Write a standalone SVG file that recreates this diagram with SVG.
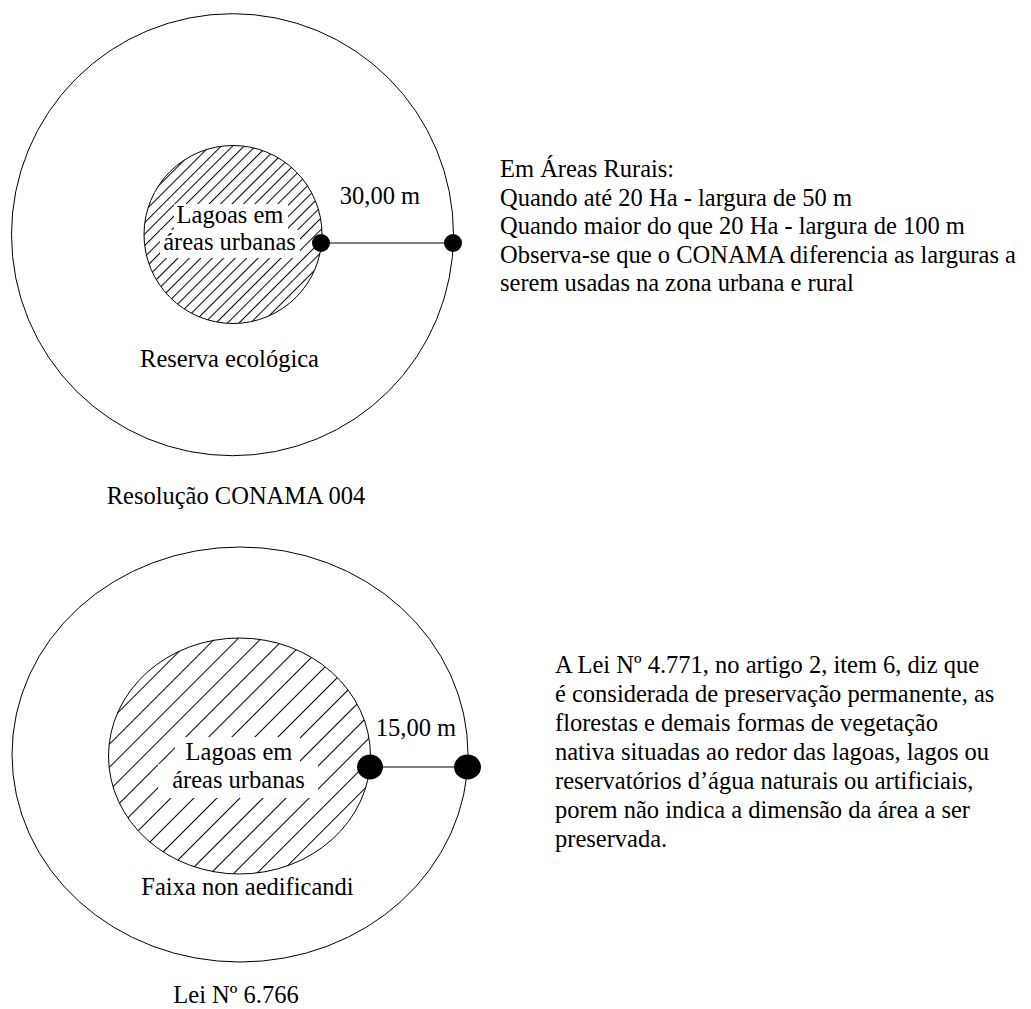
<svg xmlns="http://www.w3.org/2000/svg" width="1031" height="1009" viewBox="0 0 1031 1009">
<defs>
<pattern id="hatchA" patternUnits="userSpaceOnUse" width="8.1" height="20" patternTransform="rotate(45)">
<line x1="0.5" y1="0" x2="0.5" y2="20" stroke="#000" stroke-width="1"/>
</pattern>
<pattern id="hatchB" patternUnits="userSpaceOnUse" width="16.3" height="20" patternTransform="rotate(45)">
<line x1="0.5" y1="0" x2="0.5" y2="20" stroke="#000" stroke-width="1"/>
</pattern>
</defs>
<style>
text{font-family:"Liberation Serif","Times New Roman",serif;font-size:24.5px;fill:#000}
.c{text-anchor:middle}
.ring{fill:none;stroke:#000;stroke-width:1}
.dot{fill:#000}
.conn{stroke:#000;stroke-width:1.2;fill:none}
.mask{fill:#fff}
</style>
<rect width="1031" height="1009" fill="#fff"/>

<g id="top-outer">
<circle class="ring" cx="232.5" cy="234.7" r="221"/>
<text class="c" x="229.5" y="367">Reserva ecológica</text>
</g>
<g id="top-inner">
<circle cx="233" cy="234.5" r="89" fill="url(#hatchA)"/>
<rect class="mask" x="174" y="204" width="114" height="26"/>
<rect class="mask" x="160" y="230" width="140" height="28"/>
<circle class="ring" cx="233" cy="234.5" r="89"/>
<text class="c" x="230" y="223">Lagoas em</text>
<text class="c" x="229.5" y="250">áreas urbanas</text>
</g>
<g id="top-caption">
<text class="c" x="236" y="504">Resolução CONAMA 004</text>
</g>
<g id="top-note">
<text x="500" y="177">Em Áreas Rurais:</text>
<text x="500" y="205.5">Quando até 20 Ha - largura de 50 m</text>
<text x="500" y="234">Quando maior do que 20 Ha - largura de 100 m</text>
<text x="500" y="262.5">Observa-se que o CONAMA diferencia as larguras a</text>
<text x="500" y="291">serem usadas na zona urbana e rural</text>
</g>

<g id="bottom-outer">
<ellipse class="ring" cx="240" cy="754.5" rx="228" ry="207.5"/>
<text class="c" x="247.5" y="895">Faixa non aedificandi</text>
</g>
<g id="bottom-inner">
<ellipse cx="239.5" cy="756" rx="131" ry="118" fill="url(#hatchB)"/>
<rect class="mask" x="175" y="737" width="125" height="27"/>
<rect class="mask" x="158" y="764" width="160" height="34"/>
<ellipse class="ring" cx="239.5" cy="756" rx="131" ry="118"/>
<text class="c" x="239" y="760">Lagoas em</text>
<text class="c" x="238.5" y="788">áreas urbanas</text>
</g>
<g id="bottom-caption">
<text class="c" x="236" y="1003">Lei Nº 6.766</text>
</g>
<g id="bottom-note">
<text x="555" y="673">A Lei Nº 4.771, no artigo 2, item 6, diz que</text>
<text x="555" y="702">é considerada de preservação permanente, as</text>
<text x="555" y="731">florestas e demais formas de vegetação</text>
<text x="555" y="760">nativa situadas ao redor das lagoas, lagos ou</text>
<text x="555" y="789">reservatórios d’água naturais ou artificiais,</text>
<text x="555" y="818">porem não indica a dimensão da área a ser</text>
<text x="555" y="847">preservada.</text>
</g>

<g id="connectors">
<line class="conn" x1="321" y1="243" x2="453" y2="243"/>
<line class="conn" x1="370" y1="767" x2="467.5" y2="767"/>
</g>
<g id="dimension-top">
<circle class="dot" cx="321" cy="243" r="9"/>
<circle class="dot" cx="453" cy="243" r="9"/>
<text class="c" x="380" y="204">30,00 m</text>
</g>
<g id="dimension-bottom">
<ellipse class="dot" cx="370" cy="767" rx="13" ry="12.5"/>
<ellipse class="dot" cx="467.5" cy="767" rx="13.5" ry="12.5"/>
<text class="c" x="416" y="736">15,00 m</text>
</g>
</svg>
